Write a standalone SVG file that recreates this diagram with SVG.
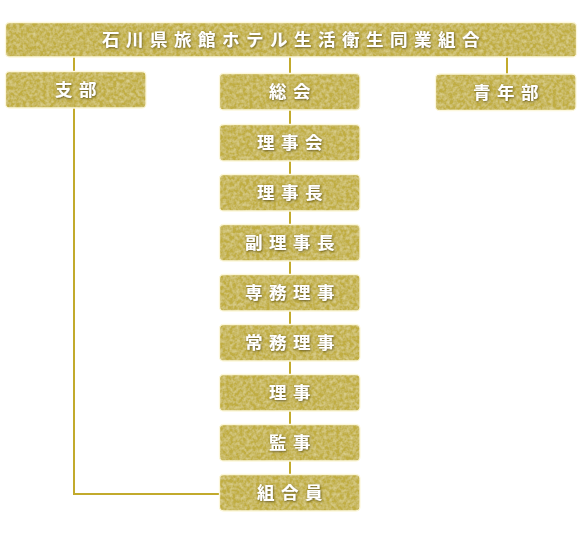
<svg xmlns="http://www.w3.org/2000/svg" width="586" height="535" viewBox="0 0 586 535">
<defs>
<filter id="tex" x="0" y="0" width="1" height="1">
<feTurbulence type="fractalNoise" baseFrequency="0.3" numOctaves="2" seed="5" result="n"/>
<feColorMatrix in="n" type="matrix" values="0 0 0 0 0.9  0 0 0 0 0.84  0 0 0 0 0.5  0 0 0 0.9 -0.3" result="c"/>
<feComposite in="c" in2="SourceGraphic" operator="in" result="t"/>
<feMerge><feMergeNode in="SourceGraphic"/><feMergeNode in="t"/></feMerge>
</filter>
<filter id="sh" x="-10%" y="-30%" width="120%" height="160%">
<feDropShadow dx="0.6" dy="0.8" stdDeviation="1" flood-color="#4a3c08" flood-opacity="0.85"/>
</filter>
</defs>
<style>
.fill{fill:#c0ad42}
.bd{fill:none;stroke:#fcf7dc;stroke-width:1.3}
.ob{fill:none;stroke:#cdb84e;stroke-width:1}
.edge{fill:none;stroke:#c2aa2c;stroke-width:2}
.lbl{font-family:"Noto Sans CJK JP","Noto Sans CJK SC",sans-serif;font-size:17.5px;font-weight:bold;fill:#ffffff;text-anchor:middle;letter-spacing:6.5px;filter:url(#sh)}
</style>
<rect width="586" height="535" fill="#ffffff"/>
<g id="connectors">
<line class="edge" x1="74" y1="57" x2="74" y2="72"/>
<line class="edge" x1="290" y1="57" x2="290" y2="74"/>
<line class="edge" x1="507" y1="57" x2="507" y2="74"/>
<line class="edge" x1="290" y1="110" x2="290" y2="474"/>
<polyline class="edge" points="74,108 74,494 219,494"/>
</g>
<g id="n-union"><rect class="fill" filter="url(#tex)" x="5.5" y="22.5" width="571" height="34.5" rx="4"/><rect class="bd" x="5.5" y="22.5" width="571" height="34.5" rx="4"/><text class="lbl" x="294" y="46">石川県旅館ホテル生活衛生同業組合</text></g>
<g id="n-shibu"><rect class="fill" filter="url(#tex)" x="5.5" y="71.5" width="140.5" height="36.5" rx="4"/><rect class="bd" x="5.5" y="71.5" width="140.5" height="36.5" rx="4"/><text class="lbl" x="79" y="96">支部</text></g>
<g id="n-sokai"><rect class="fill" filter="url(#tex)" x="219.5" y="73.5" width="140.5" height="36.5" rx="4"/><rect class="bd" x="219.5" y="73.5" width="140.5" height="36.5" rx="4"/><text class="lbl" x="293" y="98">総会</text></g>
<g id="n-seinen"><rect class="fill" filter="url(#tex)" x="435.5" y="74" width="140.5" height="36.5" rx="4"/><rect class="bd" x="435.5" y="74" width="140.5" height="36.5" rx="4"/><text class="lbl" x="509" y="98.5">青年部</text></g>
<g id="n-rijikai"><rect class="fill" filter="url(#tex)" x="219.5" y="124.5" width="140.5" height="36.5" rx="4"/><rect class="bd" x="219.5" y="124.5" width="140.5" height="36.5" rx="4"/><text class="lbl" x="293" y="149">理事会</text></g>
<g id="n-rijicho"><rect class="fill" filter="url(#tex)" x="219.5" y="174.5" width="140.5" height="36.5" rx="4"/><rect class="bd" x="219.5" y="174.5" width="140.5" height="36.5" rx="4"/><text class="lbl" x="293" y="199">理事長</text></g>
<g id="n-fukurijicho"><rect class="fill" filter="url(#tex)" x="219.5" y="224.5" width="140.5" height="36.5" rx="4"/><rect class="bd" x="219.5" y="224.5" width="140.5" height="36.5" rx="4"/><text class="lbl" x="293" y="249">副理事長</text></g>
<g id="n-senmu"><rect class="fill" filter="url(#tex)" x="219.5" y="274.5" width="140.5" height="36.5" rx="4"/><rect class="bd" x="219.5" y="274.5" width="140.5" height="36.5" rx="4"/><text class="lbl" x="293" y="299">専務理事</text></g>
<g id="n-jomu"><rect class="fill" filter="url(#tex)" x="219.5" y="324.5" width="140.5" height="36.5" rx="4"/><rect class="bd" x="219.5" y="324.5" width="140.5" height="36.5" rx="4"/><text class="lbl" x="293" y="349">常務理事</text></g>
<g id="n-riji"><rect class="fill" filter="url(#tex)" x="219.5" y="374.5" width="140.5" height="36.5" rx="4"/><rect class="bd" x="219.5" y="374.5" width="140.5" height="36.5" rx="4"/><text class="lbl" x="293" y="399">理事</text></g>
<g id="n-kanji"><rect class="fill" filter="url(#tex)" x="219.5" y="424.5" width="140.5" height="36.5" rx="4"/><rect class="bd" x="219.5" y="424.5" width="140.5" height="36.5" rx="4"/><text class="lbl" x="293" y="449">監事</text></g>
<g id="n-kumiaiin"><rect class="fill" filter="url(#tex)" x="219.5" y="474.5" width="140.5" height="36.5" rx="4"/><rect class="bd" x="219.5" y="474.5" width="140.5" height="36.5" rx="4"/><text class="lbl" x="293" y="499">組合員</text></g>
</svg>
